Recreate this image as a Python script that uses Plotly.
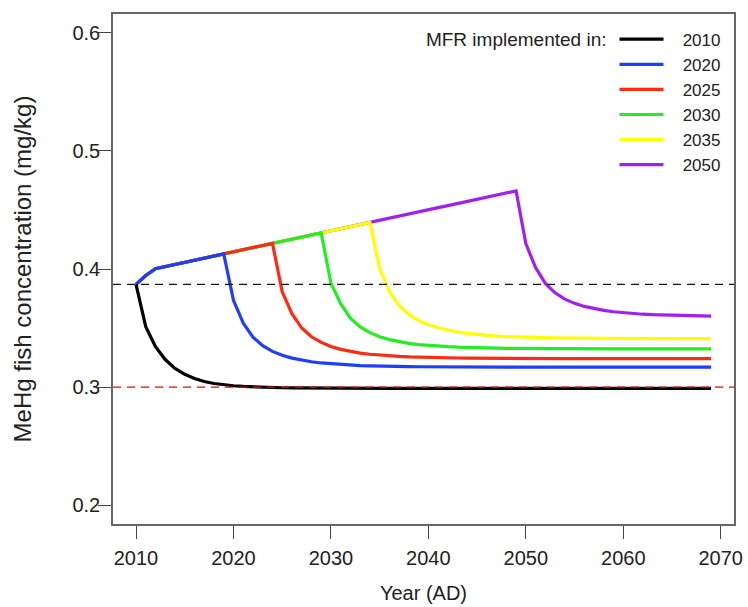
import plotly.graph_objects as go

# Simulated MeHg concentration in fish (mg/kg), yearly from 2010 to 2069
years = list(range(2010, 2070))

# Trajectory without reduction (2010-2049)
pre_mfr = [
    0.3870, 0.3945, 0.4003, 0.4021, 0.4039, 0.4057, 0.4074, 0.4092, 0.4110, 0.4128,
    0.4146, 0.4164, 0.4181, 0.4199, 0.4217, 0.4235, 0.4253, 0.4270, 0.4288, 0.4306,
    0.4324, 0.4342, 0.4359, 0.4377, 0.4395, 0.4413, 0.4431, 0.4448, 0.4466, 0.4484,
    0.4502, 0.4520, 0.4537, 0.4555, 0.4573, 0.4591, 0.4609, 0.4626, 0.4644, 0.4662,
]

# Response after the reduction is implemented (values up to 2069)
after_2010 = [
    0.3512, 0.3342, 0.3233, 0.3158, 0.3108, 0.3072, 0.3047, 0.3030, 0.3019,
    0.3011, 0.3005, 0.3001, 0.2998, 0.2996, 0.2994, 0.2993, 0.2992, 0.2991, 0.2990,
    0.2990, 0.2989, 0.2989, 0.2989, 0.2989, 0.2989, 0.2989, 0.2989, 0.2989, 0.2989,
    0.2988, 0.2988, 0.2988, 0.2988, 0.2988, 0.2988, 0.2988, 0.2988, 0.2988, 0.2988,
    0.2988, 0.2988, 0.2988, 0.2988, 0.2988, 0.2988, 0.2988, 0.2988, 0.2988, 0.2988,
    0.2988, 0.2988, 0.2988, 0.2988, 0.2988, 0.2988, 0.2988, 0.2988, 0.2988, 0.2988,
]
after_2020 = [
    0.3735, 0.3542, 0.3422, 0.3350, 0.3302, 0.3269, 0.3245, 0.3228, 0.3214, 0.3204,
    0.3197, 0.3191, 0.3186, 0.3182, 0.3180, 0.3177, 0.3175, 0.3174, 0.3173, 0.3172,
    0.3171, 0.3171, 0.3170, 0.3169, 0.3169, 0.3169, 0.3169, 0.3169, 0.3169, 0.3169,
    0.3168, 0.3168, 0.3168, 0.3168, 0.3168, 0.3168, 0.3168, 0.3168, 0.3168, 0.3168,
    0.3168, 0.3168, 0.3168, 0.3168, 0.3168, 0.3168, 0.3168, 0.3168, 0.3168, 0.3168,
]
after_2025 = [
    0.3807, 0.3622, 0.3500, 0.3426, 0.3378, 0.3343, 0.3319, 0.3302, 0.3288, 0.3278,
    0.3270, 0.3264, 0.3260, 0.3256, 0.3253, 0.3250, 0.3248, 0.3247, 0.3246, 0.3245,
    0.3244, 0.3243, 0.3243, 0.3242, 0.3242,
    0.3241, 0.3241, 0.3241, 0.3241, 0.3241, 0.3241, 0.3241, 0.3241, 0.3241, 0.3241,
    0.3241, 0.3241, 0.3241, 0.3241, 0.3241, 0.3241, 0.3241, 0.3241, 0.3241, 0.3241,
]
after_2030 = [
    0.3880, 0.3706, 0.3583, 0.3510, 0.3461, 0.3426, 0.3402, 0.3384, 0.3370, 0.3360,
    0.3352, 0.3347, 0.3342, 0.3338, 0.3335, 0.3332, 0.3330, 0.3329, 0.3328, 0.3327,
    0.3326, 0.3325, 0.3325, 0.3324, 0.3324,
    0.3323, 0.3323, 0.3323, 0.3323, 0.3323, 0.3323, 0.3323, 0.3323, 0.3323, 0.3323,
    0.3323, 0.3323, 0.3323, 0.3323, 0.3323,
]
after_2035 = [
    0.4000, 0.3810, 0.3690, 0.3615, 0.3563, 0.3528, 0.3502, 0.3482, 0.3466, 0.3454,
    0.3445, 0.3438, 0.3432, 0.3427, 0.3424, 0.3421, 0.3419, 0.3417, 0.3416, 0.3415,
    0.3414, 0.3413, 0.3413, 0.3412, 0.3412,
    0.3411, 0.3411, 0.3411, 0.3411, 0.3411, 0.3411, 0.3411, 0.3411, 0.3411, 0.3411,
]
after_2050 = [
    0.4215, 0.4012, 0.3878, 0.3798, 0.3745, 0.3709, 0.3683, 0.3664, 0.3650, 0.3638,
    0.3629, 0.3622, 0.3617, 0.3613, 0.3610, 0.3607, 0.3605, 0.3603, 0.3602, 0.3601,
]

# Scenario label, year of the last pre-reduction value, post-reduction values, colour
scenarios = [
    ("2010", 2010, after_2010, "#000000"),
    ("2020", 2019, after_2020, "#1f3dff"),
    ("2025", 2024, after_2025, "#ff2a12"),
    ("2030", 2029, after_2030, "#22ee22"),
    ("2035", 2034, after_2035, "#ffff00"),
    ("2050", 2049, after_2050, "#a020f0"),
]

current_level = 0.387
target_level = 0.300

x_ticks = [2010, 2020, 2030, 2040, 2050, 2060, 2070]
y_ticks = [0.2, 0.3, 0.4, 0.5, 0.6]

FONT = "Liberation Sans, Arial, Helvetica, sans-serif"
TEXT = "#222222"
NBSP = "\u00a0"

fig = go.Figure()

# Later scenarios first so earlier ones sit on top of the shared rising segment
for label, peak_year, after, color in reversed(scenarios):
    n = peak_year - years[0] + 1
    values = pre_mfr[:n] + after
    fig.add_trace(go.Scatter(
        x=years[:len(values)], y=values, mode="lines", name=NBSP * 3 + label,
        line=dict(color=color, width=3.2),
    ))

fig.add_hline(y=current_level, line=dict(color="#111111", width=1.3, dash="8px,6px"))
fig.add_hline(y=target_level, line=dict(color="#ff0000", width=1.3, dash="8px,6px"))

axis_common = dict(
    showgrid=False, zeroline=False, automargin=False,
    showline=True, mirror=True, linecolor="#666666", linewidth=1.6,
    ticks="outside", ticklen=13, tickwidth=1.3, tickcolor="#444444",
    tickfont=dict(family=FONT, size=20, color=TEXT),
)

fig.update_xaxes(
    range=[2007.64, 2071.36], tickvals=x_ticks,
    ticktext=[str(v) for v in x_ticks], ticklabelstandoff=2,
    title=dict(text="Year (AD)", font=dict(family=FONT, size=20, color=TEXT), standoff=18),
    **axis_common,
)
fig.update_yaxes(
    range=[0.184, 0.616], tickvals=y_ticks,
    ticktext=[f"{v:.1f}" for v in y_ticks], ticklabelstandoff=-6,
    title=dict(text="MeHg fish concentration (mg/kg)",
               font=dict(family=FONT, size=24, color=TEXT), standoff=34),
    **axis_common,
)

fig.update_layout(
    width=748, height=607,
    margin=dict(l=113, r=14, t=14, b=83),
    paper_bgcolor="white", plot_bgcolor="white",
    showlegend=True,
    legend=dict(
        x=0.987, xanchor="right", y=0.985, yanchor="top",
        traceorder="reversed",
        bgcolor="rgba(0,0,0,0)", borderwidth=0,
        font=dict(family=FONT, size=17, color=TEXT),
        title=dict(text="MFR implemented in:", side="left",
                   font=dict(family=FONT, size=19, color=TEXT)),
        itemwidth=44,
    ),
)

fig.write_html("out.html")
